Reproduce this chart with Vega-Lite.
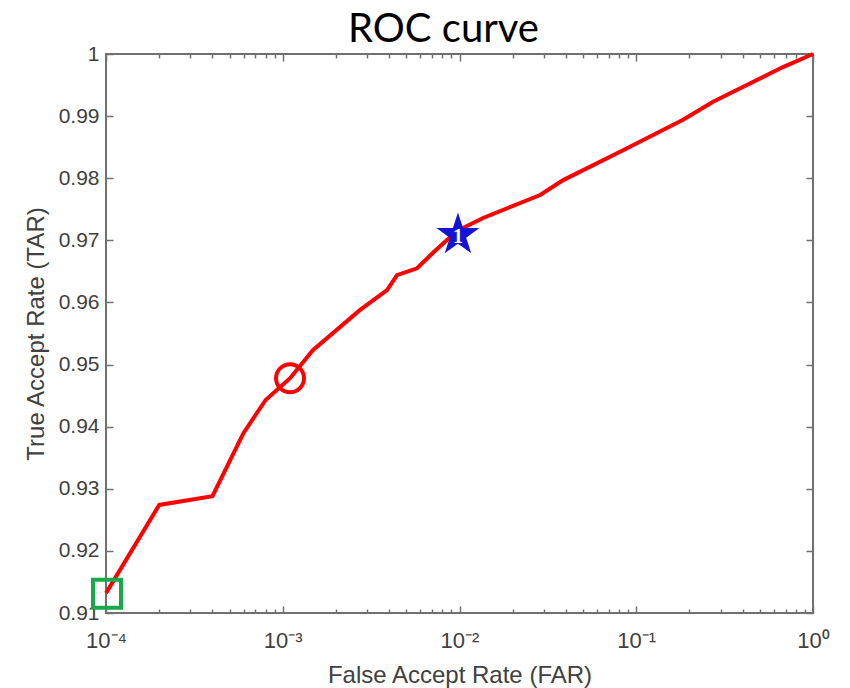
{
  "$schema": "https://vega.github.io/schema/vega-lite/v6.json",
  "width": 707,
  "height": 559,
  "autosize": {"type": "none"},
  "padding": {"left": 106, "top": 54, "right": 37, "bottom": 75},
  "background": "white",
  "title": {"text": "ROC curve", "font": "Lato", "fontSize": 40, "fontWeight": "normal", "color": "black", "anchor": "middle", "dx": -16, "offset": 8, "dy": 15},
  "config": {
    "view": {"stroke": "#707070", "strokeWidth": 2},
    "axis": {"grid": false, "domain": false, "tickColor": "#707070", "tickWidth": 1.5, "labelFont": "Liberation Sans", "labelFontSize": 21, "labelColor": "#404040", "titleFont": "Liberation Sans", "titleFontSize": 24, "titleFontWeight": "normal", "titleColor": "#404040"}
  },
  "datasets": {
    "curve": [
      {"far": 0.0001, "tar": 0.9132},
      {"far": 0.0002, "tar": 0.9274},
      {"far": 0.0004, "tar": 0.9288},
      {"far": 0.0006, "tar": 0.9390},
      {"far": 0.0008, "tar": 0.9443},
      {"far": 0.0011, "tar": 0.9478},
      {"far": 0.00148, "tar": 0.9523},
      {"far": 0.00274, "tar": 0.9588},
      {"far": 0.00389, "tar": 0.9620},
      {"far": 0.00443, "tar": 0.9644},
      {"far": 0.00575, "tar": 0.9655},
      {"far": 0.00708, "tar": 0.9680},
      {"far": 0.00883, "tar": 0.9705},
      {"far": 0.0100, "tar": 0.9717},
      {"far": 0.0136, "tar": 0.9736},
      {"far": 0.0286, "tar": 0.9773},
      {"far": 0.0386, "tar": 0.9797},
      {"far": 0.0842, "tar": 0.9845},
      {"far": 0.184, "tar": 0.9894},
      {"far": 0.272, "tar": 0.9923},
      {"far": 0.676, "tar": 0.9979},
      {"far": 1.0, "tar": 1.0}
    ]
  },
  "layer": [
    {
      "data": {"name": "curve"},
      "mark": {"type": "line", "color": "#ff0000", "strokeWidth": 4},
      "encoding": {
        "x": {"field": "far", "type": "quantitative", "scale": {"type": "log", "domain": [0.0001, 1], "nice": false},
          "axis": {"orient": "bottom", "values": [0.0001, 0.001, 0.01, 0.1, 1], "labelExpr": "['10⁻⁴','10⁻³','10⁻²','10⁻¹','10⁰'][round(log(datum.value)/LN10)+4]", "labelFontSize": 22, "labelFlush": false, "tickSize": -7, "labelPadding": 24, "title": "False Accept Rate (FAR)", "titlePadding": 12}},
        "y": {"field": "tar", "type": "quantitative", "scale": {"domain": [0.91, 1], "nice": false, "zero": false},
          "axis": {"orient": "left", "values": [0.91, 0.92, 0.93, 0.94, 0.95, 0.96, 0.97, 0.98, 0.99, 1], "format": ".2~f", "tickSize": -7, "labelPadding": 14, "title": "True Accept Rate (TAR)", "titlePadding": 10}}
      }
    },
    {
      "data": {"name": "curve"},
      "mark": {"type": "line", "opacity": 0},
      "encoding": {
        "x": {"field": "far", "type": "quantitative", "scale": {"type": "log", "domain": [0.0001, 1], "nice": false},
          "axis": {"orient": "bottom", "values": [0.0002, 0.0003, 0.0004, 0.0005, 0.0006, 0.0007, 0.0008, 0.0009, 0.002, 0.003, 0.004, 0.005, 0.006, 0.007, 0.008, 0.009, 0.02, 0.03, 0.04, 0.05, 0.06, 0.07, 0.08, 0.09, 0.2, 0.3, 0.4, 0.5, 0.6, 0.7, 0.8, 0.9], "labels": false, "tickSize": -4, "title": null}},
        "y": {"field": "tar", "type": "quantitative", "scale": {"domain": [0.91, 1], "nice": false, "zero": false},
          "axis": {"orient": "right", "values": [0.91, 0.92, 0.93, 0.94, 0.95, 0.96, 0.97, 0.98, 0.99, 1], "labels": false, "tickSize": -7, "title": null}}
      }
    },
    {
      "data": {"name": "curve"},
      "mark": {"type": "line", "opacity": 0},
      "encoding": {
        "x": {"field": "far", "type": "quantitative", "scale": {"type": "log", "domain": [0.0001, 1], "nice": false},
          "axis": {"orient": "top", "values": [0.0001, 0.001, 0.01, 0.1, 1], "labels": false, "tickSize": -7, "title": null}},
        "y": {"field": "tar", "type": "quantitative", "scale": {"domain": [0.91, 1], "nice": false, "zero": false}, "axis": null}
      }
    },
    {
      "data": {"name": "curve"},
      "mark": {"type": "line", "opacity": 0},
      "encoding": {
        "x": {"field": "far", "type": "quantitative", "scale": {"type": "log", "domain": [0.0001, 1], "nice": false},
          "axis": {"orient": "top", "values": [0.0002, 0.0003, 0.0004, 0.0005, 0.0006, 0.0007, 0.0008, 0.0009, 0.002, 0.003, 0.004, 0.005, 0.006, 0.007, 0.008, 0.009, 0.02, 0.03, 0.04, 0.05, 0.06, 0.07, 0.08, 0.09, 0.2, 0.3, 0.4, 0.5, 0.6, 0.7, 0.8, 0.9], "labels": false, "tickSize": -4, "title": null}},
        "y": {"field": "tar", "type": "quantitative", "scale": {"domain": [0.91, 1], "nice": false, "zero": false}, "axis": null}
      }
    },
    {
      "data": {"values": [{"far": 0.0001013, "tar": 0.9131}]},
      "mark": {"type": "point", "shape": "square", "filled": false, "size": 784, "strokeWidth": 4, "color": "#1aa84a", "opacity": 1, "clip": false},
      "encoding": {
        "x": {"field": "far", "type": "quantitative", "scale": {"type": "log", "domain": [0.0001, 1], "nice": false}, "axis": null},
        "y": {"field": "tar", "type": "quantitative", "scale": {"domain": [0.91, 1], "nice": false, "zero": false}, "axis": null}
      }
    },
    {
      "data": {"values": [{"far": 0.001099, "tar": 0.9478}]},
      "mark": {"type": "point", "shape": "circle", "filled": false, "size": 784, "strokeWidth": 4, "color": "#ff0000", "opacity": 1},
      "encoding": {
        "x": {"field": "far", "type": "quantitative", "scale": {"type": "log", "domain": [0.0001, 1], "nice": false}, "axis": null},
        "y": {"field": "tar", "type": "quantitative", "scale": {"domain": [0.91, 1], "nice": false, "zero": false}, "axis": null}
      }
    },
    {
      "data": {"values": [{"far": 0.0098, "tar": 0.97085, "label": "1"}]},
      "layer": [
        {
          "mark": {"type": "point", "shape": "M0,-1L0.2245,-0.309L0.9511,-0.309L0.3633,0.118L0.5878,0.809L0,0.382L-0.5878,0.809L-0.3633,0.118L-0.9511,-0.309L-0.2245,-0.309Z", "filled": true, "size": 2043, "color": "#1414d8", "opacity": 1}
        },
        {
          "mark": {"type": "text", "font": "Liberation Serif", "fontSize": 20, "fontWeight": "bold", "color": "white", "align": "center", "baseline": "middle", "dy": 2},
          "encoding": {"text": {"field": "label"}}
        }
      ],
      "encoding": {
        "x": {"field": "far", "type": "quantitative", "scale": {"type": "log", "domain": [0.0001, 1], "nice": false}, "axis": null},
        "y": {"field": "tar", "type": "quantitative", "scale": {"domain": [0.91, 1], "nice": false, "zero": false}, "axis": null}
      }
    }
  ],
  "resolve": {"axis": {"x": "independent", "y": "independent"}}
}
